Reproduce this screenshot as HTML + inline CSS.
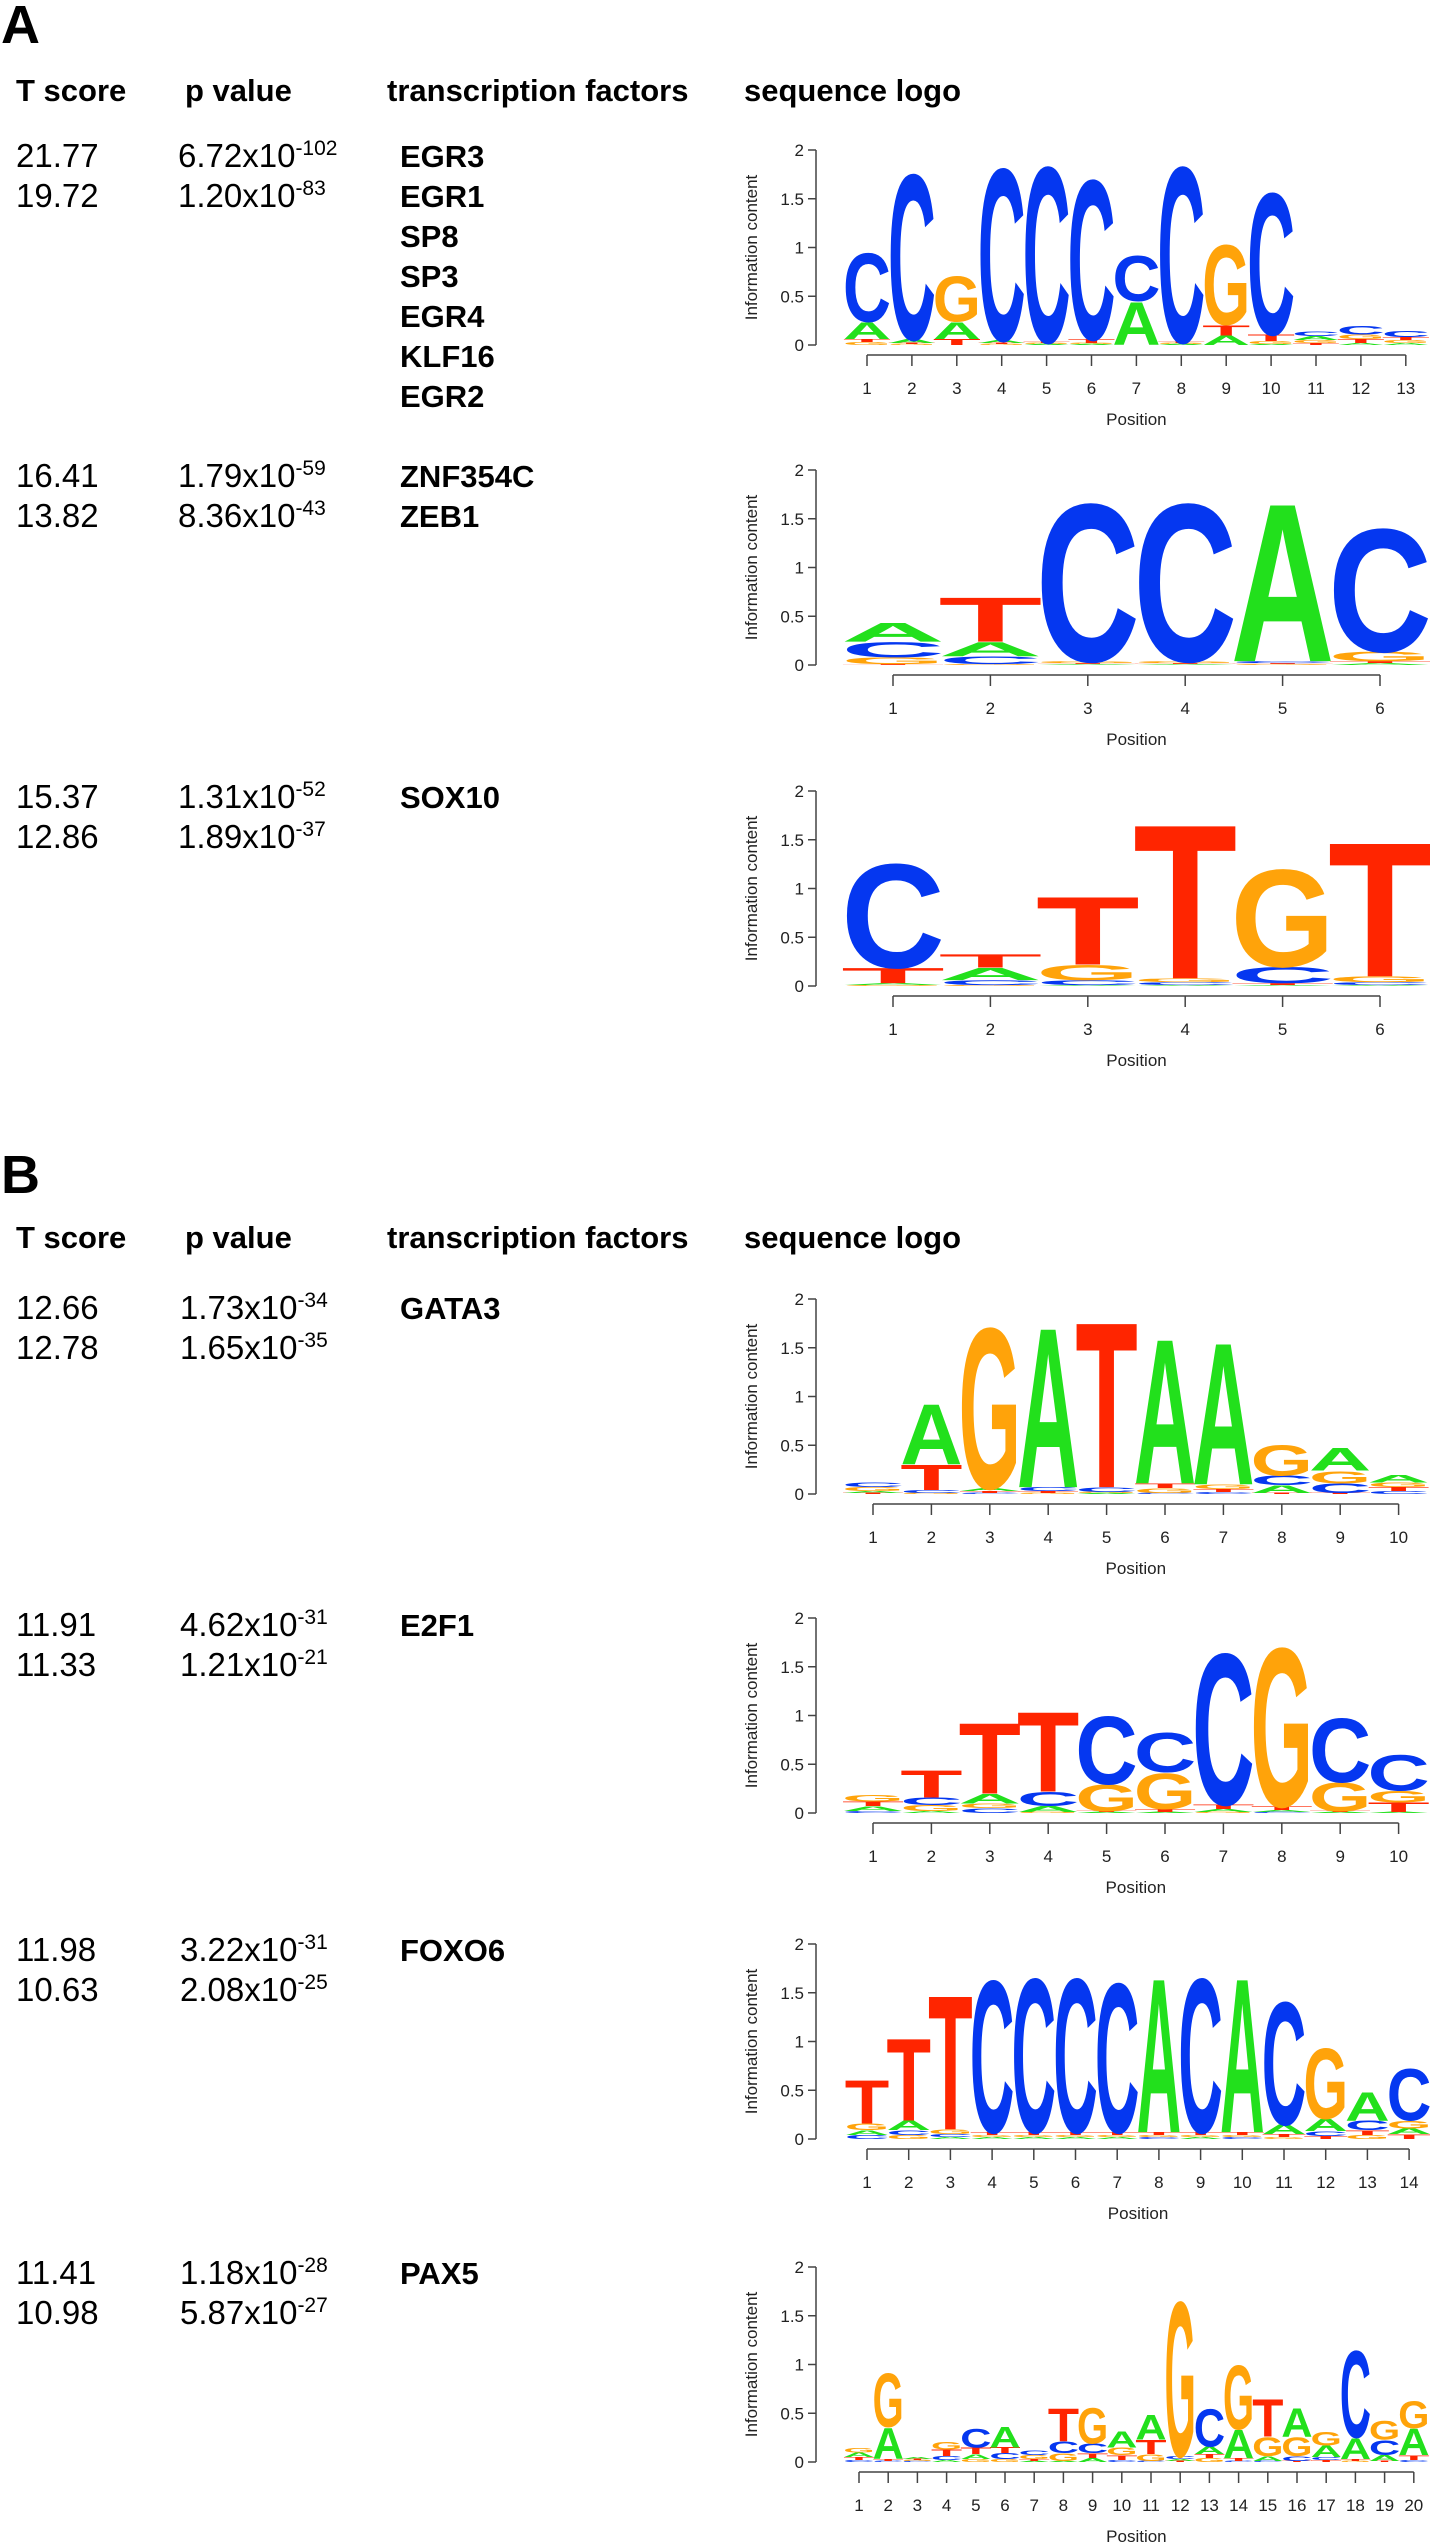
<!DOCTYPE html>
<html><head><meta charset="utf-8"><style>
html,body{margin:0;padding:0;background:#fff;}
svg{display:block;}
.h{font-family:"Liberation Sans",Arial,sans-serif;font-weight:bold;font-size:31px;fill:#000;}
.d{font-family:"Liberation Sans",Arial,sans-serif;font-size:33px;fill:#000;}
.sup{font-size:21px;}
.tf{font-family:"Liberation Sans",Arial,sans-serif;font-weight:bold;font-size:31px;fill:#000;}
.pl{font-family:"Liberation Sans",Arial,sans-serif;font-weight:bold;font-size:54px;fill:#000;}
.ax{font-family:"Liberation Sans",Arial,sans-serif;font-size:17px;fill:#222;}
</style></head><body>
<svg id="fig" width="1430" height="2544" viewBox="0 0 1430 2544" xmlns="http://www.w3.org/2000/svg">
<g>
<text class="pl" x="1" y="43">A</text>
<text class="h" x="16" y="101">T score</text>
<text class="h" x="185" y="101">p value</text>
<text class="h" x="387" y="101">transcription factors</text>
<text class="h" x="744" y="101">sequence logo</text>
<text class="d" x="16" y="167">21.77</text>
<text class="d" x="16" y="207">19.72</text>
<text class="d" x="178" y="167">6.72x10<tspan class="sup" dy="-12">-102</tspan></text>
<text class="d" x="178" y="207">1.20x10<tspan class="sup" dy="-12">-83</tspan></text>
<text class="tf" x="400" y="167">EGR3</text>
<text class="tf" x="400" y="207">EGR1</text>
<text class="tf" x="400" y="247">SP8</text>
<text class="tf" x="400" y="287">SP3</text>
<text class="tf" x="400" y="327">EGR4</text>
<text class="tf" x="400" y="367">KLF16</text>
<text class="tf" x="400" y="407">EGR2</text>
<text class="d" x="16" y="487">16.41</text>
<text class="d" x="16" y="527">13.82</text>
<text class="d" x="178" y="487">1.79x10<tspan class="sup" dy="-12">-59</tspan></text>
<text class="d" x="178" y="527">8.36x10<tspan class="sup" dy="-12">-43</tspan></text>
<text class="tf" x="400" y="487">ZNF354C</text>
<text class="tf" x="400" y="527">ZEB1</text>
<text class="d" x="16" y="808">15.37</text>
<text class="d" x="16" y="848">12.86</text>
<text class="d" x="178" y="808">1.31x10<tspan class="sup" dy="-12">-52</tspan></text>
<text class="d" x="178" y="848">1.89x10<tspan class="sup" dy="-12">-37</tspan></text>
<text class="tf" x="400" y="808">SOX10</text>
</g>
<g>
<text class="pl" x="1" y="1193">B</text>
<text class="h" x="16" y="1248">T score</text>
<text class="h" x="185" y="1248">p value</text>
<text class="h" x="387" y="1248">transcription factors</text>
<text class="h" x="744" y="1248">sequence logo</text>
<text class="d" x="16" y="1319">12.66</text>
<text class="d" x="16" y="1359">12.78</text>
<text class="d" x="180" y="1319">1.73x10<tspan class="sup" dy="-12">-34</tspan></text>
<text class="d" x="180" y="1359">1.65x10<tspan class="sup" dy="-12">-35</tspan></text>
<text class="tf" x="400" y="1319">GATA3</text>
<text class="d" x="16" y="1636">11.91</text>
<text class="d" x="16" y="1676">11.33</text>
<text class="d" x="180" y="1636">4.62x10<tspan class="sup" dy="-12">-31</tspan></text>
<text class="d" x="180" y="1676">1.21x10<tspan class="sup" dy="-12">-21</tspan></text>
<text class="tf" x="400" y="1636">E2F1</text>
<text class="d" x="16" y="1961">11.98</text>
<text class="d" x="16" y="2001">10.63</text>
<text class="d" x="180" y="1961">3.22x10<tspan class="sup" dy="-12">-31</tspan></text>
<text class="d" x="180" y="2001">2.08x10<tspan class="sup" dy="-12">-25</tspan></text>
<text class="tf" x="400" y="1961">FOXO6</text>
<text class="d" x="16" y="2284">11.41</text>
<text class="d" x="16" y="2324">10.98</text>
<text class="d" x="180" y="2284">1.18x10<tspan class="sup" dy="-12">-28</tspan></text>
<text class="d" x="180" y="2324">5.87x10<tspan class="sup" dy="-12">-27</tspan></text>
<text class="tf" x="400" y="2284">PAX5</text>
</g>
</svg>
<script>
// Information content per base, per position (bits)
const logo1_A=[0.18,0.04,0.18,0.03,0.01,0.01,0.45,0.01,0.1,0.01,0.04,0.02,0.02];
const logo1_C=[0.73,1.75,0.0,1.82,1.86,1.69,0.48,1.86,0.0,1.5,0.05,0.09,0.06];
const logo1_G=[0.03,0.01,0.48,0.01,0.01,0.01,0.0,0.01,0.84,0.03,0.03,0.05,0.03];
const logo1_T=[0.03,0.01,0.06,0.01,0.01,0.04,0.0,0.01,0.11,0.07,0.02,0.04,0.03];

const logo2_A=[0.2,0.15,0.01,0.01,1.67,0.02];
const logo2_C=[0.16,0.08,1.67,1.67,0.02,1.3];
const logo2_G=[0.07,0.01,0.02,0.02,0.01,0.1];
const logo2_T=[0.01,0.47,0.01,0.01,0.01,0.02];

const logo3_A=[0.02,0.13,0.01,0.01,0.01,0.01];
const logo3_C=[1.1,0.05,0.05,0.03,0.17,0.03];
const logo3_G=[0.01,0.01,0.16,0.04,1.03,0.06];
const logo3_T=[0.16,0.14,0.72,1.63,0.02,1.42];

const logo4_A=[0.02,0.64,0.03,1.69,0.01,1.53,1.5,0.08,0.24,0.08];
const logo4_C=[0.05,0.03,0.01,0.04,0.05,0.01,0.02,0.1,0.1,0.03];
const logo4_G=[0.04,0.01,1.7,0.01,0.01,0.05,0.05,0.32,0.13,0.05];
const logo4_T=[0.01,0.27,0.02,0.02,1.75,0.05,0.03,0.01,0.01,0.04];

const logo5_A=[0.05,0.02,0.1,0.06,0.01,0.01,0.03,0.02,0.01,0.01];
const logo5_C=[0.02,0.08,0.05,0.15,0.72,0.42,1.6,0.01,0.68,0.38];
const logo5_G=[0.07,0.06,0.05,0.01,0.28,0.38,0.01,1.68,0.3,0.12];
const logo5_T=[0.05,0.29,0.75,0.84,0.01,0.03,0.05,0.04,0.01,0.1];

const logo6_A=[0.05,0.1,0.02,0.02,0.02,0.02,0.02,1.63,0.02,1.63,0.1,0.13,0.3,0.06];
const logo6_C=[0.04,0.05,0.03,1.61,1.63,1.63,1.58,0.02,1.63,0.02,1.3,0.05,0.1,0.55];
const logo6_G=[0.07,0.04,0.05,0.02,0.02,0.02,0.02,0.02,0.02,0.02,0.02,0.75,0.04,0.08];
const logo6_T=[0.46,0.87,1.42,0.03,0.03,0.03,0.03,0.03,0.03,0.03,0.03,0.03,0.05,0.05];

const logo7_A=[0.05,0.33,0.02,0.02,0.05,0.22,0.01,0.01,0.04,0.17,0.26,0.02,0.08,0.3,0.05,0.3,0.12,0.22,0.06,0.28];
const logo7_C=[0.02,0.01,0.01,0.04,0.2,0.06,0.05,0.12,0.1,0.02,0.01,0.03,0.4,0.01,0.01,0.05,0.03,0.92,0.16,0.02];
const logo7_G=[0.05,0.57,0.01,0.08,0.03,0.03,0.04,0.08,0.38,0.08,0.07,1.64,0.04,0.68,0.2,0.2,0.14,0.01,0.2,0.29];
const logo7_T=[0.03,0.02,0.01,0.07,0.07,0.06,0.02,0.35,0.05,0.05,0.15,0.01,0.04,0.03,0.4,0.01,0.02,0.02,0.01,0.05];

const yTicks=[0,0.5,1,1.5,2];
const yTickLabels=["0","0.5","1","1.5","2"];

const NS="http://www.w3.org/2000/svg";
const svg=document.getElementById('fig');
const COL={A:"#22e01c",C:"#0537f0",G:"#ffa30a",T:"#ff2500"};
const UNIT=97.5, AXX=816;

function mk(tag,attrs,parent){const e=document.createElementNS(NS,tag);for(const k in attrs)e.setAttribute(k,attrs[k]);parent.appendChild(e);return e;}

function drawLogo(name,A,C,G,T,y0,x1,dx){
  const g=mk('g',{},svg);
  
  
  const n=A.length;
  const ys=v=>y0-v*UNIT;
  const xs=i=>x1+i*dx;
  // y axis
  const yax=mk('line',{x1:AXX,x2:AXX,y1:ys(2),y2:ys(0),stroke:"#444","stroke-width":1.5},g);
  
  
  yTicks.forEach((t,k)=>{
    mk('line',{x1:AXX-8,x2:AXX,y1:ys(t),y2:ys(t),stroke:"#444","stroke-width":1.5},g);
    const tl=mk('text',{x:AXX-12,y:ys(t)+6,"text-anchor":"end",class:"ax"},g);
    tl.textContent=yTickLabels[k];
    
    
  });
  const yt=mk('text',{x:0,y:0,"text-anchor":"middle",class:"ax",transform:`translate(757,${ys(1)}) rotate(-90)`},g);
  yt.textContent="Information content";
  
  
  // x axis
  const xa=mk('line',{x1:xs(0),x2:xs(n-1),y1:y0+10,y2:y0+10,stroke:"#444","stroke-width":1.5},g);
  
  
  for(let i=0;i<n;i++){
    mk('line',{x1:xs(i),x2:xs(i),y1:y0+10,y2:y0+21,stroke:"#444","stroke-width":1.5},g);
    const tl=mk('text',{x:xs(i),y:y0+49,"text-anchor":"middle",class:"ax"},g);
    tl.textContent=String(i+1);
    
    
  }
  const xt=mk('text',{x:(xs(0)+xs(n-1))/2,y:y0+80,"text-anchor":"middle",class:"ax"},g);
  xt.textContent="Position";
  
  
  // letters
  const w=dx*0.97;
  for(let i=0;i<n;i++){
    const stack=[["A",A[i]],["C",C[i]],["G",G[i]],["T",T[i]]].sort((a,b)=>a[1]-b[1]);
    let base=0;
    stack.forEach(([b,h])=>{
      if(h<=0.003){return;}
      const yb=ys(base);
      const hp=h*UNIT;
      const tl=w*1.1;
      const t=mk('text',{x:xs(i)-tl/2,y:0,"font-family":"Liberation Sans, Arial, sans-serif","font-weight":"bold","font-size":100,fill:COL[b],textLength:tl,lengthAdjust:"spacingAndGlyphs",transform:`translate(0,${yb}) scale(1,${hp/72})`},g);
      t.textContent=b;
      
      
      base+=h;
    });
  }
}
drawLogo('logo-egr3',logo1_A,logo1_C,logo1_G,logo1_T,345,867,44.9);
drawLogo('logo-znf354c',logo2_A,logo2_C,logo2_G,logo2_T,665,893,97.4);
drawLogo('logo-sox10',logo3_A,logo3_C,logo3_G,logo3_T,986,893,97.4);
drawLogo('logo-gata3',logo4_A,logo4_C,logo4_G,logo4_T,1494,873,58.4);
drawLogo('logo-e2f1',logo5_A,logo5_C,logo5_G,logo5_T,1813,873,58.4);
drawLogo('logo-foxo6',logo6_A,logo6_C,logo6_G,logo6_T,2139,867,41.7);
drawLogo('logo-pax5',logo7_A,logo7_C,logo7_G,logo7_T,2462,859,29.2);
</script>
</body></html>
